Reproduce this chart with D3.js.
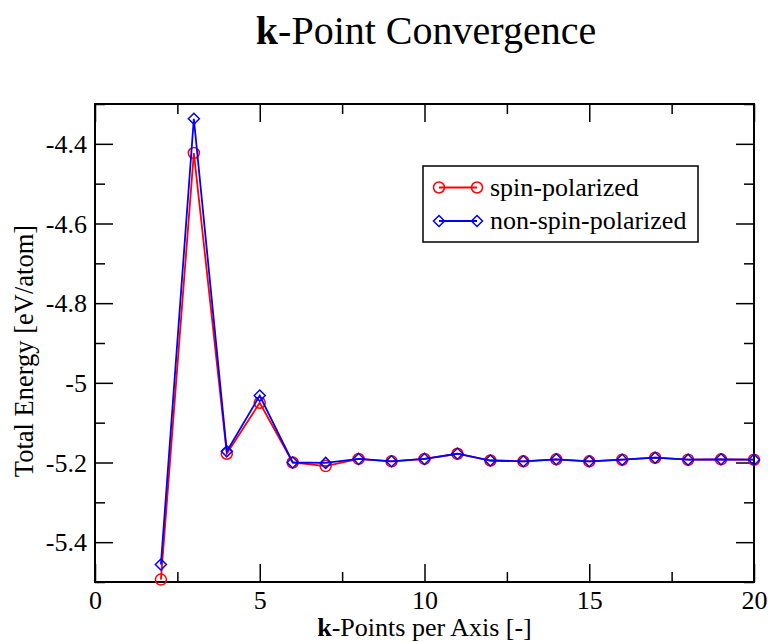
<!DOCTYPE html>
<html>
<head>
<meta charset="utf-8">
<script src="https://cdn.jsdelivr.net/npm/d3@7"></script>
<style>
  body { margin: 0; background: #fff; }
</style>
</head>
<body>
<svg id="chart" width="768" height="642" font-family="Liberation Serif, serif"></svg>
<script>
const kPoints = [2, 3, 4, 5, 6, 7, 8, 9, 10, 11, 12, 13, 14, 15, 16, 17, 18, 19, 20];
const spinPolarized = [-5.494, -4.423, -5.178, -5.05, -5.2, -5.209, -5.191, -5.197, -5.191, -5.178,
  -5.195, -5.197, -5.192, -5.197, -5.193, -5.188, -5.193, -5.192, -5.193];
const nonSpinPolarized = [-5.456, -4.337, -5.172, -5.032, -5.2, -5.201, -5.191, -5.197, -5.191, -5.178,
  -5.195, -5.197, -5.192, -5.197, -5.193, -5.188, -5.193, -5.192, -5.193];
const seriesNames = ["spin-polarized", "non-spin-polarized"];
const xMajorTicks = [0, 5, 10, 15, 20];
const xMinorTicks = [2.5, 7.5, 12.5, 17.5];
const yMajorTicks = [-5.4, -5.2, -5.0, -4.8, -4.6, -4.4];
const yMinorTicks = [-5.5, -5.3, -5.1, -4.9, -4.7, -4.5, -4.3];

const width = 768;
const height = 642;
const margin = { top: 104, right: 14, bottom: 60, left: 95 };
const serif = "Liberation Serif, serif";

const svg = d3.select("#chart");

const x = d3.scaleLinear().domain([0, 20]).range([margin.left, width - margin.right]);
const y = d3.scaleLinear().domain([-5.5, -4.3]).range([height - margin.bottom, margin.top]);

const fmt = (d) => String(+d.toFixed(1));
const majorLen = 18;
const minorLen = 10;

// axes on all four sides, ticks pointing inward
const drawAxis = (axisFn, scale, transform, values, len, labels) => {
  const g = svg.append("g")
    .attr("transform", transform)
    .call(axisFn(scale).tickValues(values).tickSizeInner(-len).tickSizeOuter(0)
      .tickFormat(labels ? fmt : ""))
    .attr("font-family", serif)
    .attr("font-size", 26);
  g.select(".domain").remove();
  g.selectAll(".tick line").attr("stroke", "#000").attr("stroke-width", 1.5);
  g.selectAll("text").attr("fill", "#000");
  return g;
};

const bottomY = height - margin.bottom;
const gx = drawAxis(d3.axisBottom, x, `translate(0,${bottomY})`, xMajorTicks, majorLen, true);
gx.selectAll("text").attr("dy", null).attr("y", 26.5);
drawAxis(d3.axisBottom, x, `translate(0,${bottomY})`, xMinorTicks, minorLen, false);
drawAxis(d3.axisTop, x, `translate(0,${margin.top})`, xMajorTicks, majorLen, false);
drawAxis(d3.axisTop, x, `translate(0,${margin.top})`, xMinorTicks, minorLen, false);

const gy = drawAxis(d3.axisLeft, y, `translate(${margin.left},0)`, yMajorTicks, majorLen, true);
gy.selectAll("text").attr("x", -8).attr("dy", null).attr("y", 8.5);
drawAxis(d3.axisLeft, y, `translate(${margin.left},0)`, yMinorTicks, minorLen, false);
drawAxis(d3.axisRight, y, `translate(${width - margin.right},0)`, yMajorTicks, majorLen, false);
drawAxis(d3.axisRight, y, `translate(${width - margin.right},0)`, yMinorTicks, minorLen, false);

// frame
svg.append("rect")
  .attr("x", margin.left).attr("y", margin.top)
  .attr("width", width - margin.left - margin.right)
  .attr("height", height - margin.top - margin.bottom)
  .attr("fill", "none").attr("stroke", "#000").attr("stroke-width", 2);

// series
const series = [
  { name: seriesNames[0], values: spinPolarized, color: "#ff0000", marker: "circle" },
  { name: seriesNames[1], values: nonSpinPolarized, color: "#0000ff", marker: "diamond" }
];

const line = d3.line().x((d) => x(d[0])).y((d) => y(d[1]));

const drawMarker = (g, cx, cy, s) => {
  if (s.marker === "circle") {
    g.append("circle").attr("cx", cx).attr("cy", cy).attr("r", 5.5)
      .attr("fill", "none").attr("stroke", s.color).attr("stroke-width", 1.5);
  } else {
    const r = 5.5;
    g.append("path")
      .attr("d", `M${cx},${cy - r}L${cx + r},${cy}L${cx},${cy + r}L${cx - r},${cy}Z`)
      .attr("fill", "none").attr("stroke", s.color).attr("stroke-width", 1.5);
  }
};

series.forEach((s) => {
  const pts = kPoints.map((k, i) => [k, s.values[i]]);
  const g = svg.append("g");
  g.append("path").datum(pts).attr("d", line)
    .attr("fill", "none").attr("stroke", s.color).attr("stroke-width", 1.8);
  pts.forEach((p) => drawMarker(g, x(p[0]), y(p[1]), s));
});

// legend
const legend = svg.append("g");
legend.append("rect")
  .attr("x", 423).attr("y", 166).attr("width", 275).attr("height", 76)
  .attr("fill", "#fff").attr("stroke", "#000").attr("stroke-width", 1.5);
series.forEach((s, i) => {
  const ly = 187.5 + i * 33.5;
  legend.append("line").attr("x1", 439).attr("x2", 477).attr("y1", ly).attr("y2", ly)
    .attr("stroke", s.color).attr("stroke-width", 1.8);
  drawMarker(legend, 439, ly, s);
  drawMarker(legend, 477, ly, s);
  legend.append("text").attr("x", 490).attr("y", ly + 8)
    .attr("font-family", serif).attr("font-size", 26).text(s.name);
});

// title
const title = svg.append("text")
  .attr("x", 426).attr("y", 44).attr("text-anchor", "middle")
  .attr("font-family", serif).attr("font-size", 40);
title.append("tspan").attr("font-weight", "bold").text("k");
title.append("tspan").text("-Point Convergence");

// x label
const xLabel = svg.append("text")
  .attr("x", (margin.left + width - margin.right) / 2).attr("y", 635.5)
  .attr("text-anchor", "middle")
  .attr("font-family", serif).attr("font-size", 26);
xLabel.append("tspan").attr("font-weight", "bold").text("k");
xLabel.append("tspan").text("-Points per Axis [-]");

// y label
svg.append("text")
  .attr("transform", "translate(33,351) rotate(-90)")
  .attr("text-anchor", "middle")
  .attr("font-family", serif).attr("font-size", 26.5)
  .text("Total Energy [eV/atom]");
</script>
</body>
</html>
